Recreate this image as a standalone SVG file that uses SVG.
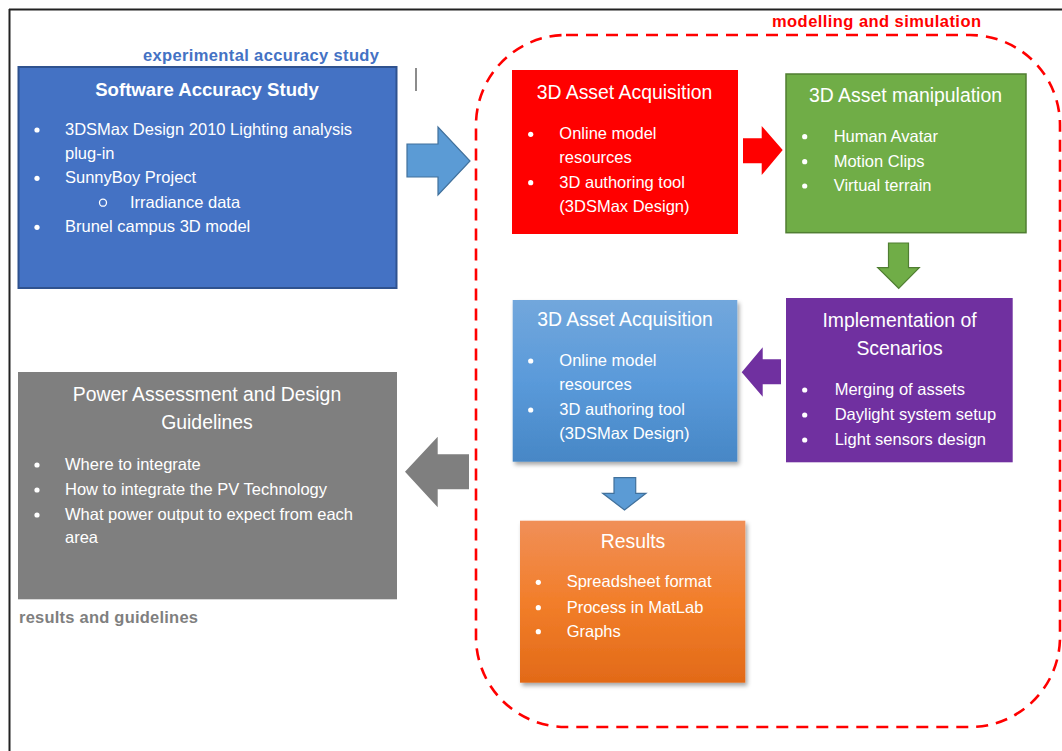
<svg xmlns="http://www.w3.org/2000/svg" width="1062" height="751" viewBox="0 0 1062 751">
<defs>
<style>
text{font-family:"Liberation Sans",Arial,sans-serif;}
.t{fill:#fff;font-size:19.4px;text-anchor:middle;}
.b{fill:#fff;font-size:16.5px;}
.lbl{font-size:16.5px;font-weight:bold;}
.dot{fill:#fff;}
</style>
<linearGradient id="gBlue" x1="0" y1="0" x2="0" y2="1">
<stop offset="0" stop-color="#72A7DC"/>
<stop offset="0.5" stop-color="#5A9ADA"/>
<stop offset="1" stop-color="#4787C6"/>
</linearGradient>
<linearGradient id="gOrange" x1="0" y1="0" x2="0" y2="1">
<stop offset="0" stop-color="#F08F58"/>
<stop offset="0.5" stop-color="#F27E2A"/>
<stop offset="1" stop-color="#E26A18"/>
</linearGradient>
<filter id="sh" x="-10%" y="-10%" width="125%" height="125%">
<feDropShadow dx="2" dy="3" stdDeviation="2" flood-color="#000" flood-opacity="0.35"/>
</filter>
</defs>

<g id="frame">
<line x1="9" y1="9.5" x2="1062" y2="9.5" stroke="#222" stroke-width="2"/>
<line x1="9.5" y1="9" x2="9.5" y2="751" stroke="#222" stroke-width="2"/>
<line x1="416" y1="68" x2="416" y2="91" stroke="#666" stroke-width="1.5"/>
</g>

<g id="modelling-group">
<rect x="476" y="35" width="584" height="692" rx="90" ry="90" fill="none" stroke="#FF0000" stroke-width="2.6" stroke-dasharray="12 8"/>
<text class="lbl" x="772" y="26.7" fill="#FF0000" textLength="209">modelling and simulation</text>
</g>

<g id="software-accuracy">
<text class="lbl" x="143" y="60.5" fill="#4472C4" textLength="236">experimental accuracy study</text>
<rect x="18.5" y="67" width="378" height="221" fill="#4472C4" stroke="#2F528F" stroke-width="2"/>
<text class="t" x="207" y="95.5" style="font-weight:bold;font-size:18.6px">Software Accuracy Study</text>
<circle class="dot" cx="37" cy="130" r="2.6"/>
<text class="b" x="65" y="135">3DSMax Design 2010 Lighting analysis</text>
<text class="b" x="65" y="159.3">plug-in</text>
<circle class="dot" cx="37" cy="178.3" r="2.6"/>
<text class="b" x="65" y="183.3">SunnyBoy Project</text>
<circle cx="103" cy="202.7" r="3.5" fill="none" stroke="#fff" stroke-width="1.3"/>
<text class="b" x="130" y="207.7">Irradiance data</text>
<circle class="dot" cx="37" cy="227.3" r="2.6"/>
<text class="b" x="65" y="232.3">Brunel campus 3D model</text>
</g>

<g id="asset-acquisition-1">
<rect x="512" y="70" width="226" height="164" fill="#FF0000"/>
<text class="t" x="624.5" y="99.3">3D Asset Acquisition</text>
<circle class="dot" cx="530.7" cy="134.3" r="2.6"/>
<text class="b" x="559.3" y="139.3">Online model</text>
<text class="b" x="559.3" y="163.3">resources</text>
<circle class="dot" cx="530.7" cy="182.7" r="2.6"/>
<text class="b" x="559.3" y="187.7">3D authoring tool</text>
<text class="b" x="559.3" y="211.7">(3DSMax Design)</text>
</g>

<g id="asset-manipulation">
<rect x="786" y="74" width="240" height="158.7" fill="#70AD47" stroke="#507E32" stroke-width="1.5"/>
<text class="t" x="905.5" y="101.7">3D Asset manipulation</text>
<circle class="dot" cx="804.7" cy="136.7" r="2.6"/>
<text class="b" x="833.7" y="141.7">Human Avatar</text>
<circle class="dot" cx="804.7" cy="161.7" r="2.6"/>
<text class="b" x="833.7" y="166.7">Motion Clips</text>
<circle class="dot" cx="804.7" cy="186" r="2.6"/>
<text class="b" x="833.7" y="191">Virtual terrain</text>
</g>

<g id="implementation">
<rect x="786" y="298" width="226.7" height="164.3" fill="#7030A0"/>
<text class="t" x="899.5" y="327.3">Implementation of</text>
<text class="t" x="899.5" y="355">Scenarios</text>
<circle class="dot" cx="804.7" cy="390" r="2.6"/>
<text class="b" x="834.7" y="395">Merging of assets</text>
<circle class="dot" cx="804.7" cy="415" r="2.6"/>
<text class="b" x="834.7" y="420">Daylight system setup</text>
<circle class="dot" cx="804.7" cy="440" r="2.6"/>
<text class="b" x="834.7" y="445">Light sensors design</text>
</g>

<g id="asset-acquisition-2">
<rect x="512.7" y="300" width="224.6" height="161.7" fill="url(#gBlue)" filter="url(#sh)"/>
<text class="t" x="625" y="326">3D Asset Acquisition</text>
<circle class="dot" cx="530.7" cy="361" r="2.6"/>
<text class="b" x="559.3" y="366">Online model</text>
<text class="b" x="559.3" y="390">resources</text>
<circle class="dot" cx="530.7" cy="410" r="2.6"/>
<text class="b" x="559.3" y="415">3D authoring tool</text>
<text class="b" x="559.3" y="438.5">(3DSMax Design)</text>
</g>

<g id="results">
<rect x="520" y="520.7" width="225.3" height="162" fill="url(#gOrange)" filter="url(#sh)"/>
<text class="t" x="633" y="547.7">Results</text>
<circle class="dot" cx="538.3" cy="582.3" r="2.6"/>
<text class="b" x="566.7" y="587.3">Spreadsheet format</text>
<circle class="dot" cx="538.3" cy="607.7" r="2.6"/>
<text class="b" x="566.7" y="612.7">Process in MatLab</text>
<circle class="dot" cx="538.3" cy="631.7" r="2.6"/>
<text class="b" x="566.7" y="636.7">Graphs</text>
</g>

<g id="power-assessment">
<rect x="18" y="372" width="379" height="227.3" fill="#7F7F7F"/>
<text class="t" x="207" y="400.7">Power Assessment and Design</text>
<text class="t" x="207" y="429">Guidelines</text>
<circle class="dot" cx="37" cy="465" r="2.6"/>
<text class="b" x="65" y="470">Where to integrate</text>
<circle class="dot" cx="37" cy="490" r="2.6"/>
<text class="b" x="65" y="495">How to integrate the PV Technology</text>
<circle class="dot" cx="37" cy="515" r="2.6"/>
<text class="b" x="65" y="520">What power output to expect from each</text>
<text class="b" x="65" y="543.3">area</text>
<text class="lbl" x="19" y="623" fill="#7F7F7F" textLength="179">results and guidelines</text>
</g>

<g id="connectors">
<polygon points="407,144 438,144 438,127 470,161 438,195 438,177 407,177" fill="#5B9BD5" stroke="#41719C" stroke-width="1.2"/>
<polygon points="743,138.3 761.7,138.3 761.7,126 782.7,150 761.7,175 761.7,163.3 743,163.3" fill="#FF0000"/>
<polygon points="888.5,243 908.5,243 908.5,267.7 919.3,267.7 898.7,288.3 877.7,267.7 888.5,267.7" fill="#70AD47" stroke="#507E32" stroke-width="1.2"/>
<polygon points="781,359.3 762.7,359.3 762.7,347.3 741.7,372.3 762.7,396.7 762.7,384.3 781,384.3" fill="#7030A0"/>
<polygon points="614,477.7 635.7,477.7 635.7,493.3 646,493.3 624.5,510 602.7,493.3 614,493.3" fill="#5B9BD5" stroke="#41719C" stroke-width="1.2"/>
<polygon points="469,454.3 437.7,454.3 437.7,436.7 405,471.7 437.7,507.3 437.7,489.3 469,489.3" fill="#7F7F7F"/>
</g>
</svg>
